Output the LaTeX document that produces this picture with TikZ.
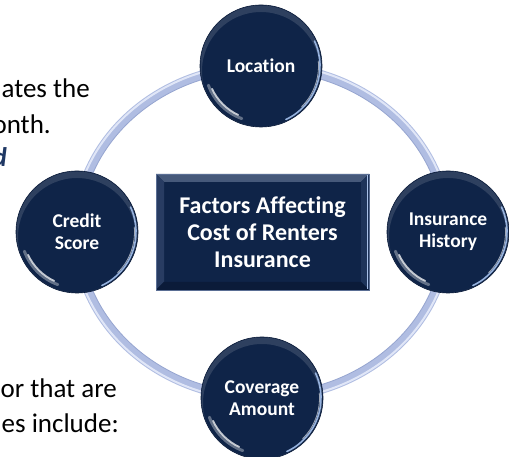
\documentclass[tikz,border=0pt]{standalone}
\usepackage{fontspec}
\setmainfont{Carlito}[Ligatures={NoCommon}]
\definecolor{navy}{RGB}{15,36,72}
\definecolor{navydark}{RGB}{10,26,56}
\definecolor{ringc}{RGB}{176,189,226}
\definecolor{ringhi}{RGB}{224,230,247}
\definecolor{ringlo}{RGB}{150,165,208}
\definecolor{rimblue}{RGB}{150,178,222}
\definecolor{textnavy}{RGB}{31,56,100}
\definecolor{bevtop}{RGB}{70,89,122}
\definecolor{bevleft}{RGB}{40,60,98}
\definecolor{bevright}{RGB}{30,52,90}
\definecolor{bevbot}{RGB}{11,27,57}
\definecolor{edgelight}{RGB}{168,192,232}
\definecolor{boxline}{RGB}{90,110,148}
\tikzset{
  factor/.style={circle, minimum size=122pt, inner sep=0pt, fill=navy, draw=navydark, line width=0.6pt,
    text=white, font=\fontsize{19.5}{22}\selectfont\bfseries, align=center},
  centerbox/.style={rectangle, minimum width=213pt, minimum height=116pt, inner sep=0pt,
    text=white, font=\fontsize{24}{26.7}\selectfont\bfseries, align=center},
  doctext/.style={anchor=base east, inner sep=0pt, font=\fontsize{27}{30}\selectfont, text=black},
}
\begin{document}
\begin{tikzpicture}[x=1pt,y=1pt]
\clip (0,0) rectangle (509,457);
\fill[white] (0,0) rectangle (509,457);
% cropped document text
\node[doctext] (t1) at (90,359) {ates the};
\node[doctext] (t2) at (51,323) {onth.};
\node[doctext, text=textnavy, font=\fontsize{27}{30}\selectfont\bfseries\itshape] (t3) at (7,290) {d};
\node[doctext] (t4) at (117,59) {or that are};
\node[doctext] (t5) at (119,24) {es include:};
% ring
\coordinate (c) at (262,225);
\draw[ringc, line width=9pt] (c) ellipse [x radius=186, y radius=166];
\draw[ringhi, line width=2pt] (c) ellipse [x radius=188.5, y radius=168.5];
\draw[ringlo, line width=0.8pt] (c) ellipse [x radius=181.5, y radius=161.5];
% circles
\node[factor] (loc) at (261,391) {Location};
\node[factor] (hist) at (448,225) {Insurance\\History};
\node[factor] (cred) at (77,225) {Credit\\Score};
\node[factor] (cov) at (262,59) {Coverage\\Amount};
\foreach \n in {loc,hist,cred,cov}{
  \begin{scope}[shift={(\n.center)}]
    \begin{scope}
      \clip (0,0) circle (60.5);
      \fill[white, opacity=0.13, even odd rule] (0,0) circle (60.5) (0,-5) circle (59);
    \end{scope}
    \draw[white, opacity=0.75, line width=1.8pt, line cap=round] (205:54) arc (205:245:54);
    \draw[white, opacity=0.35, line width=3pt, line cap=round] (200:56) arc (200:250:56);
    \draw[rimblue, line width=1.6pt, line cap=round] (-65:59) arc (-65:25:59);
    \draw[white, opacity=0.6, line width=0.8pt, line cap=round] (-45:57.5) arc (-45:5:57.5);
  \end{scope}
}
% central box with bevel
\fill[navy] (156,167) rectangle (369,283);
\fill[bevtop] (156,283) -- (369,283) -- (361,275) -- (164,275) -- cycle;
\fill[bevleft] (156,167) -- (156,283) -- (164,275) -- (164,175) -- cycle;
\fill[bevright] (369,167) -- (369,283) -- (361,275) -- (361,175) -- cycle;
\fill[bevbot] (156,167) -- (369,167) -- (361,175) -- (164,175) -- cycle;
\draw[edgelight, line width=1.5pt] (367.5,168) -- (367.5,282);
\draw[boxline, line width=0.6pt] (156,167) rectangle (369,283);
\node[centerbox] (title) at (262.5,225) {Factors Affecting\\Cost of Renters\\Insurance};
\end{tikzpicture}
\end{document}
